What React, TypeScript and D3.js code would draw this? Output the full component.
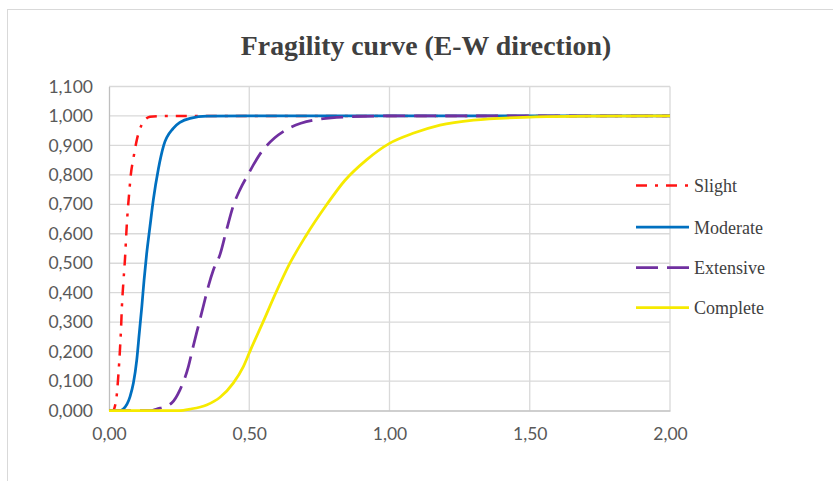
import React, { useEffect, useRef } from 'react';
import * as d3 from 'd3';

// values
const slightX = [0, 0.015, 0.021, 0.027, 0.033, 0.039, 0.043, 0.046, 0.051, 0.057, 0.063, 0.067, 0.072, 0.077, 0.087, 0.099, 0.116, 0.146, 0.2, 0.3, 0.5, 1.0, 1.5, 2.0];
const slightY = [0, 0, 0.014, 0.047, 0.115, 0.206, 0.28, 0.353, 0.432, 0.515, 0.624, 0.681, 0.738, 0.794, 0.856, 0.918, 0.969, 0.997, 1.0, 1.0, 1.0, 1.0, 1.0, 1.0];

const moderateX = [0, 0.04, 0.051, 0.075, 0.087, 0.099, 0.108, 0.117, 0.125, 0.134, 0.146, 0.158, 0.176, 0.195, 0.229, 0.253, 0.289, 0.35, 0.5, 1.0, 1.5, 2.0];
const moderateY = [0, 0, 0.005, 0.047, 0.093, 0.172, 0.263, 0.353, 0.443, 0.53, 0.624, 0.715, 0.82, 0.9, 0.958, 0.978, 0.992, 0.999, 1.0, 1.0, 1.0, 1.0];

const extensiveX = [0, 0.15, 0.17, 0.223, 0.253, 0.283, 0.3, 0.318, 0.336, 0.354, 0.372, 0.396, 0.419, 0.443, 0.467, 0.495, 0.54, 0.59, 0.635, 0.73, 0.85, 1.0, 1.5, 2.0];
const extensiveY = [0, 0, 0.005, 0.025, 0.07, 0.149, 0.217, 0.285, 0.353, 0.421, 0.477, 0.53, 0.613, 0.695, 0.75, 0.8, 0.873, 0.925, 0.955, 0.986, 0.997, 1.0, 1.0, 1.0];

const completeX = [0, 0.25, 0.29, 0.348, 0.396, 0.443, 0.479, 0.502, 0.549, 0.595, 0.645, 0.70, 0.777, 0.84, 0.918, 1.0, 1.084, 1.18, 1.3, 1.5, 1.7, 2.0];
const completeY = [0, 0, 0.005, 0.019, 0.045, 0.093, 0.149, 0.2, 0.3, 0.4, 0.5, 0.59, 0.7, 0.78, 0.851, 0.907, 0.941, 0.969, 0.986, 0.996, 0.999, 1.0];

const seriesNames = ['Slight', 'Moderate', 'Extensive', 'Complete'];
const xTicks = [0, 0.5, 1.0, 1.5, 2.0];
const yTicks = [0, 0.1, 0.2, 0.3, 0.4, 0.5, 0.6, 0.7, 0.8, 0.9, 1.0, 1.1];

const W = 833;
const H = 481;

const App = () => {
    const svgRef = useRef<SVGSVGElement>(null);

    useEffect(() => {
        const svg = d3.select(svgRef.current);
        svg.selectAll('*').remove();

        const left = 109, right = 670, top = 86.5, bottom = 410.5;
        const x = d3.scaleLinear().domain([0, 2]).range([left, right]);
        const y = d3.scaleLinear().domain([0, 1.1]).range([bottom, top]);

        // outer chart border
        svg.append('rect')
            .attr('x', 7.5).attr('y', 9.5)
            .attr('width', 900).attr('height', 600)
            .attr('fill', '#fff')
            .attr('stroke', '#d9d9d9');

        svg.append('text')
            .attr('x', 426).attr('y', 55)
            .attr('text-anchor', 'middle')
            .attr('font-family', '"Liberation Serif", "Times New Roman", serif')
            .attr('font-weight', 'bold')
            .attr('font-size', 27.8)
            .attr('fill', '#404040')
            .text('Fragility curve (E-W direction)');

        // gridlines
        const grid = svg.append('g');
        grid.selectAll('line.h')
            .data(yTicks.filter(d => d > 0))
            .enter().append('line')
            .attr('x1', left).attr('x2', right)
            .attr('y1', d => y(d)).attr('y2', d => y(d))
            .attr('stroke', '#d9d9d9').attr('stroke-width', 1.3);
        grid.selectAll('line.v')
            .data(xTicks.filter(d => d > 0))
            .enter().append('line')
            .attr('x1', d => x(d)).attr('x2', d => x(d))
            .attr('y1', top).attr('y2', bottom)
            .attr('stroke', '#d9d9d9').attr('stroke-width', 1.3);

        // axes
        const yAxis = svg.append('g')
            .attr('transform', `translate(${left},0)`)
            .call(d3.axisLeft(y).tickValues(yTicks).tickSize(0).tickPadding(16)
                .tickFormat(d => d3.format('.3f')(+d).replace('.', ',')));
        yAxis.select('.domain').attr('stroke', '#bfbfbf').attr('stroke-width', 1.3);
        yAxis.selectAll('text')
            .attr('font-family', 'Lato, sans-serif').attr('font-size', 17.5).attr('fill', '#595959');

        const xAxis = svg.append('g')
            .attr('transform', `translate(0,${bottom})`)
            .call(d3.axisBottom(x).tickValues(xTicks).tickSize(0).tickPadding(17)
                .tickFormat(d => d3.format('.2f')(+d).replace('.', ',')));
        xAxis.select('.domain').attr('stroke', '#bfbfbf').attr('stroke-width', 1.3);
        xAxis.selectAll('text')
            .attr('font-family', 'Lato, sans-serif').attr('font-size', 17.5).attr('fill', '#595959');

        const styles = [
            { color: '#ff1414', dash: '11,8,3,8', width: 2.5 },
            { color: '#0070c0', dash: null, width: 2.75 },
            { color: '#7030a0', dash: '22,9', width: 2.75 },
            { color: '#f6ea00', dash: null, width: 2.75 },
        ];
        const data = [
            slightX.map((v, i) => [v, slightY[i]]),
            moderateX.map((v, i) => [v, moderateY[i]]),
            extensiveX.map((v, i) => [v, extensiveY[i]]),
            completeX.map((v, i) => [v, completeY[i]]),
        ];

        const line = d3.line<number[]>()
            .x(d => x(d[0]))
            .y(d => y(d[1]))
            .curve(d3.curveMonotoneX);

        data.forEach((pts, i) => {
            svg.append('path')
                .attr('d', line(pts))
                .attr('fill', 'none')
                .attr('stroke', styles[i].color)
                .attr('stroke-width', styles[i].width)
                .attr('stroke-dasharray', styles[i].dash)
                .attr('stroke-linejoin', 'round');
        });

        // legend
        const legendY = [185.5, 227, 267.5, 307.5];
        const lg = svg.append('g');
        seriesNames.forEach((name, i) => {
            lg.append('line')
                .attr('x1', 636).attr('x2', 689)
                .attr('y1', legendY[i]).attr('y2', legendY[i])
                .attr('stroke', styles[i].color)
                .attr('stroke-width', styles[i].width)
                .attr('stroke-dasharray', styles[i].dash);
            lg.append('text')
                .attr('x', 694).attr('y', legendY[i] + 6.5)
                .attr('font-family', '"Liberation Serif", "Times New Roman", serif')
                .attr('font-size', 18)
                .attr('fill', '#404040')
                .text(name);
        });
    }, []);

    return (
        <svg ref={svgRef} width={W} height={H}
            style={{ position: 'absolute', left: 0, top: 0, background: '#fff' }} />
    );
};

export default App;
